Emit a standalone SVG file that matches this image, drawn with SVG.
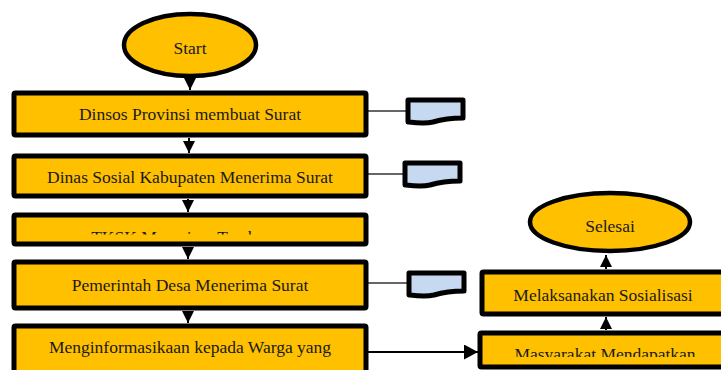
<svg xmlns="http://www.w3.org/2000/svg" width="721" height="370" viewBox="0 0 721 370">
<style>
.box{fill:#ffc000;stroke:#000;stroke-width:5;stroke-linejoin:round}
.term{fill:#ffc000;stroke:#000;stroke-width:4.5}
.doc{fill:#c6d9f1;stroke:#000;stroke-width:5;stroke-linejoin:round}
.lbl{font-family:"Palatino Linotype","Book Antiqua",Palatino,"Liberation Serif",serif;font-size:17.5px;fill:#1a1a1a;text-anchor:middle}
.flow{stroke:#000;stroke-width:2;fill:none}
.thin{stroke:#333;stroke-width:1.5;fill:none}
</style>
<defs>
<marker id="ah" markerUnits="userSpaceOnUse" markerWidth="12" markerHeight="12" refX="12" refY="6" orient="auto"><path d="M0,0 L12,6 L0,12 Z" fill="#000"/></marker>
<marker id="ah2" markerUnits="userSpaceOnUse" markerWidth="14" markerHeight="15" refX="14" refY="7.5" orient="auto"><path d="M0,0 L14,7.5 L0,15 Z" fill="#000"/></marker>
<clipPath id="c3"><rect x="17" y="215" width="346" height="19.5"/></clipPath>
<clipPath id="c7"><rect x="482" y="333" width="239" height="24"/></clipPath>
<path id="docshape" d="M0,0 H55 V18 C45,18 35,19 25,22 C17,24 9,23 0,22 Z"/>
</defs>
<g id="connectors">
<line class="flow" x1="190" y1="77" x2="190" y2="90" marker-end="url(#ah)"/>
<line class="flow" x1="189" y1="138" x2="189" y2="153" marker-end="url(#ah)"/>
<line class="flow" x1="188" y1="199" x2="188" y2="212" marker-end="url(#ah)"/>
<line class="flow" x1="188" y1="247" x2="188" y2="259" marker-end="url(#ah)"/>
<line class="flow" x1="188" y1="311" x2="188" y2="323" marker-end="url(#ah)"/>
<line class="thin" x1="368" y1="111" x2="406" y2="111"/>
<line class="thin" x1="368" y1="174" x2="403" y2="174"/>
<line class="thin" x1="368" y1="283" x2="407" y2="283"/>
<line class="flow" x1="368" y1="352" x2="478" y2="352" marker-end="url(#ah2)"/>
<line class="flow" x1="606" y1="330" x2="606" y2="317" marker-end="url(#ah)"/>
<line class="flow" x1="606" y1="269" x2="606" y2="255" marker-end="url(#ah)"/>
</g>
<g id="start"><ellipse class="term" cx="190" cy="45" rx="66" ry="31"/><text class="lbl" x="190" y="54">Start</text></g>
<g id="n1"><rect class="box" x="14" y="93" width="352" height="42" rx="1.5"/><text class="lbl" x="190" y="120">Dinsos Provinsi membuat Surat</text></g>
<g id="n2"><rect class="box" x="14" y="156" width="352" height="40" rx="1.5"/><text class="lbl" x="190" y="183">Dinas Sosial Kabupaten Menerima Surat</text></g>
<g id="n3"><rect class="box" x="14" y="215" width="352" height="29" rx="1.5"/><text class="lbl" x="190" y="243" clip-path="url(#c3)">TKSK Menerima Tembusan</text></g>
<g id="n4"><rect class="box" x="14" y="262" width="352" height="46" rx="1.5"/><text class="lbl" x="190" y="291">Pemerintah Desa Menerima Surat</text></g>
<g id="n5"><rect class="box" x="14" y="326" width="352" height="60" rx="1.5"/><text class="lbl" x="190" y="353">Menginformasikaan kepada Warga yang</text></g>
<g id="d1"><use href="#docshape" class="doc" x="408" y="100"/></g>
<g id="d2"><use href="#docshape" class="doc" x="405" y="163"/></g>
<g id="d3"><use href="#docshape" class="doc" x="409" y="273"/></g>
<g id="selesai"><ellipse class="term" cx="610" cy="222" rx="80" ry="29"/><text class="lbl" x="610" y="232">Selesai</text></g>
<g id="n6"><rect class="box" x="482" y="272" width="262" height="42" rx="1.5"/><text class="lbl" x="603" y="301">Melaksanakan Sosialisasi</text></g>
<g id="n7"><rect class="box" x="480" y="333" width="264" height="34" rx="1.5"/><text class="lbl" x="605" y="360" clip-path="url(#c7)">Masyarakat Mendapatkan</text></g>
</svg>
